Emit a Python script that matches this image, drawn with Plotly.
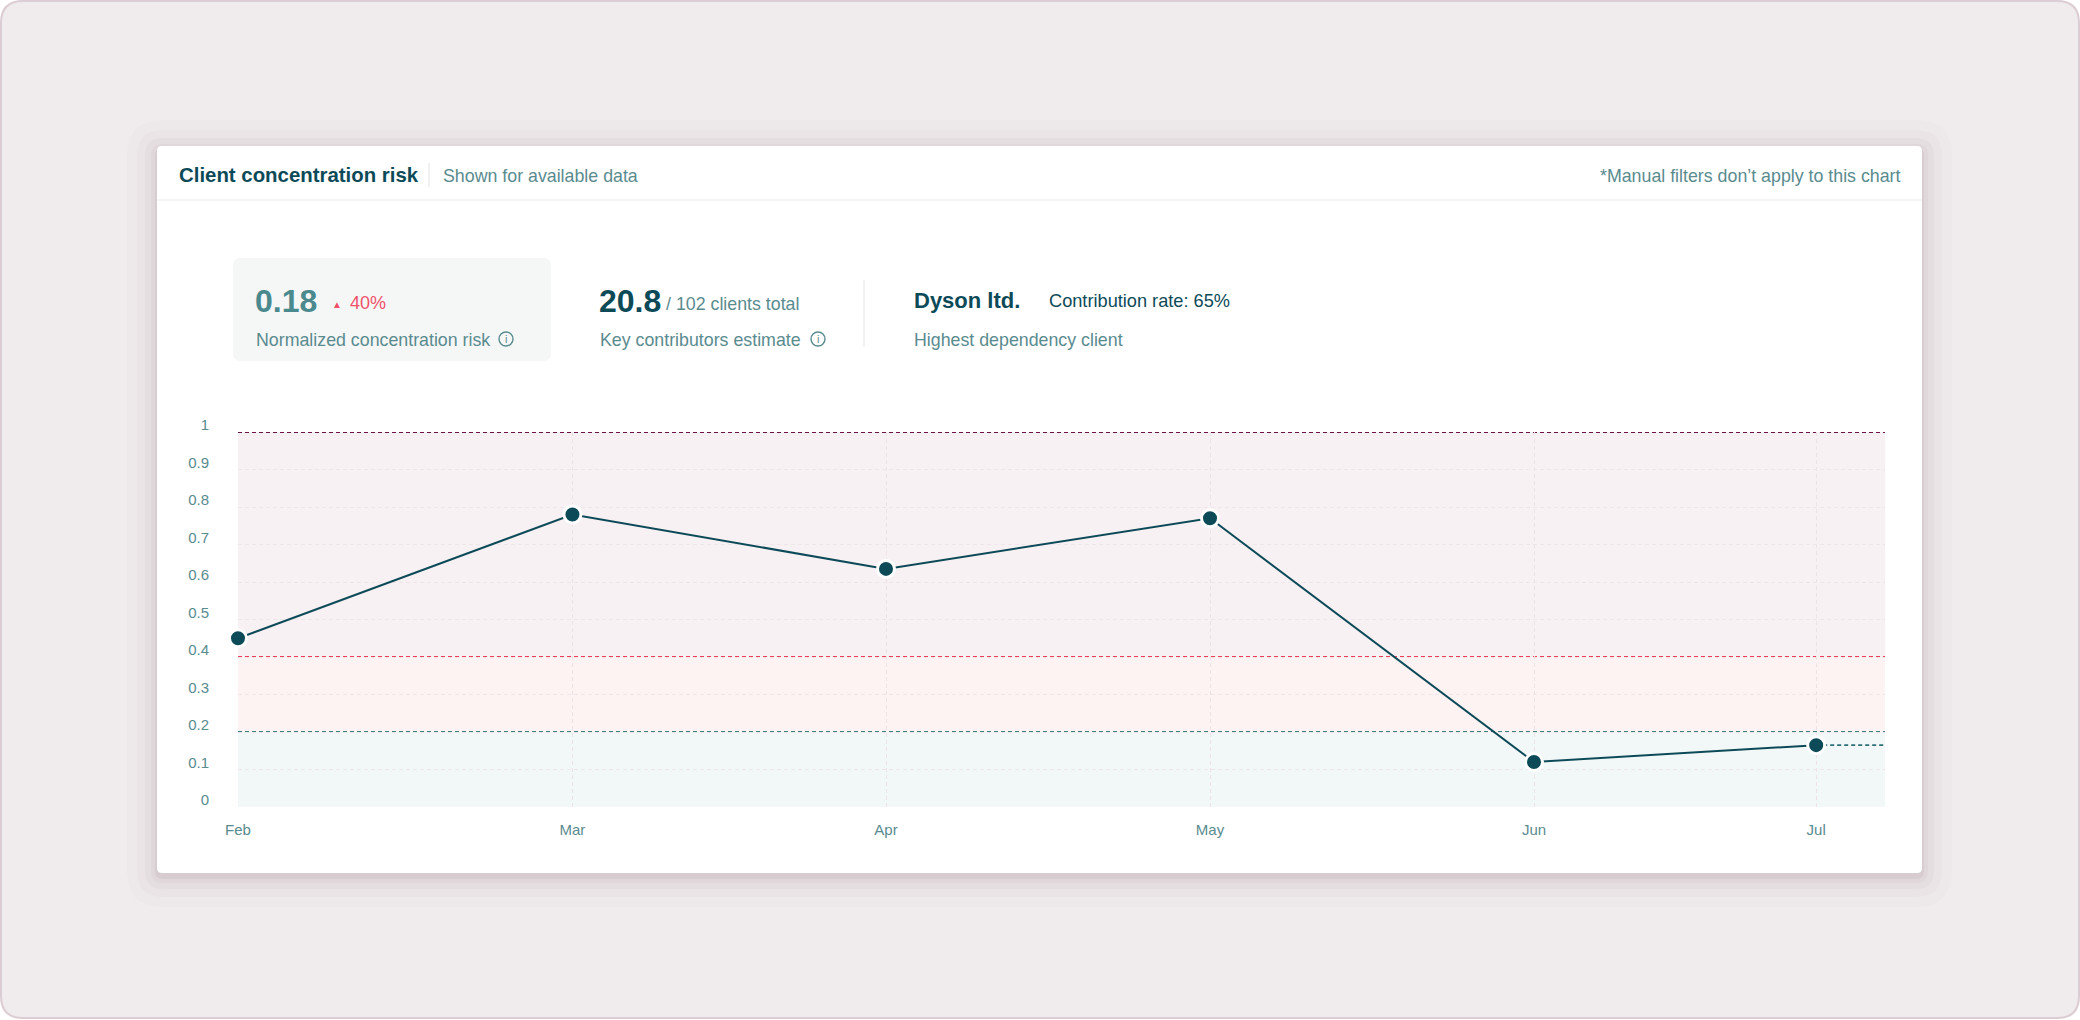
import plotly.graph_objects as go

# data
dates = ["2024-02-01", "2024-03-04", "2024-04-03", "2024-05-04", "2024-06-04", "2024-07-01"]
months = ["Feb", "Mar", "Apr", "May", "Jun", "Jul"]
risk = [0.45, 0.78, 0.635, 0.77, 0.12, 0.165]
x_end = "2024-07-07 14:00"

y_ticks = [0, 0.1, 0.2, 0.3, 0.4, 0.5, 0.6, 0.7, 0.8, 0.9, 1]
y_ticktext = ["0", "0.1", "0.2", "0.3", "0.4", "0.5", "0.6", "0.7", "0.8", "0.9", "1"]

# risk zones: (low, high, fill, threshold line colour)
zones = [
    (0.0, 0.2, "#f2f8f8", "#3f7f84"),
    (0.2, 0.4, "#fdf3f3", "#f03d58"),
    (0.4, 1.0, "#f7f1f4", "#6a1440"),
]

DARK = "#0d4a58"
MUTED = "#5a8b8f"
RED = "#f0506a"
FONT = "Liberation Sans, Arial, sans-serif"

W, H = 2080, 1020
PL, PR, PT, PB = 238, 1885, 432, 807


def px(x):
    return (x - PL) / (PR - PL)


def py(y):
    return (PB - y) / (PB - PT)


def rrect(x0, y0, x1, y1, r):
    pts = [
        ("M", x0 + r, y0), ("L", x1 - r, y0), ("Q", x1, y0, x1, y0 + r),
        ("L", x1, y1 - r), ("Q", x1, y1, x1 - r, y1),
        ("L", x0 + r, y1), ("Q", x0, y1, x0, y1 - r),
        ("L", x0, y0 + r), ("Q", x0, y0, x0 + r, y0),
    ]
    out = []
    for p in pts:
        if p[0] == "Q":
            out.append(f"Q {px(p[1]):.5f},{py(p[2]):.5f} {px(p[3]):.5f},{py(p[4]):.5f}")
        else:
            out.append(f"{p[0]} {px(p[1]):.5f},{py(p[2]):.5f}")
    return " ".join(out) + " Z"


def box(x0, y0, x1, y1, r, fill, line=None, lw=0):
    return dict(type="path", xref="paper", yref="paper", path=rrect(x0, y0, x1, y1, r),
                fillcolor=fill, line=dict(color=line or fill, width=lw), layer="below")


def seg(x0, y0, x1, y1, color, w=1):
    return dict(type="line", xref="paper", yref="paper", x0=px(x0), y0=py(y0), x1=px(x1), y1=py(y1),
                line=dict(color=color, width=w), layer="below")


shapes = [box(1, 1, W - 1, H - 2, 22, "#f0ebed", "#dccdd4", 2)]
# soft card shadow
for grow, alpha in [(30, 0.018), (20, 0.025), (12, 0.035), (6, 0.05), (2, 0.07)]:
    shapes.append(box(157 - grow, 146 - grow + 4, 1922 + grow, 873 + grow + 4, 6 + grow,
                      f"rgba(110,90,100,{alpha})"))
shapes += [
    box(157, 146, 1922, 873, 5, "#ffffff"),
    seg(157, 200, 1922, 200, "#ebebeb"),
    seg(429, 163, 429, 187, "#e3e3e3"),
    box(233, 258, 551, 361, 8, "#f5f7f7"),
    seg(864, 280, 864, 347, "#e6e6e6"),
]
for cx in (506, 818):
    shapes.append(dict(type="circle", xref="paper", yref="paper",
                       x0=px(cx - 7), x1=px(cx + 7), y0=py(339 - 7), y1=py(339 + 7),
                       line=dict(color=MUTED, width=1.4), fillcolor="rgba(0,0,0,0)", layer="below"))

for lo, hi, fill, lc in zones:
    shapes.append(dict(type="rect", xref="paper", yref="y", x0=0, x1=1, y0=lo, y1=hi,
                       fillcolor=fill, line=dict(width=0), layer="below"))
for lo, hi, fill, lc in zones:
    shapes.append(dict(type="line", xref="paper", yref="y", x0=0, x1=1, y0=hi, y1=hi,
                       line=dict(color=lc, width=1.8, dash="4px,3px"), layer="between"))


def note(x, y, text, size, color, anchor="left", bold=False):
    return dict(xref="paper", yref="paper", x=px(x), y=py(y), xanchor=anchor, yanchor="middle",
                text=f"<b>{text}</b>" if bold else text, showarrow=False,
                font=dict(family=FONT, size=size, color=color))


annotations = [
    note(177, 175, "Client concentration risk", 20.4, DARK, bold=True),
    note(441, 176, "Shown for available data", 17.8, MUTED),
    note(1903, 176, "*Manual filters don\u2019t apply to this chart", 17.8, MUTED, anchor="right"),
    note(253, 301, "0.18", 32, "#4a898d", bold=True),
    note(330, 304, "\u25b2", 10, RED),
    note(348, 303, "40%", 18, RED),
    note(254, 340, "Normalized concentration risk", 17.8, MUTED),
    note(506, 339, "i", 11, MUTED, anchor="center"),
    note(597, 301, "20.8", 32, DARK, bold=True),
    note(664, 304, "/ 102 clients total", 17.8, MUTED),
    note(598, 340, "Key contributors estimate", 17.8, MUTED),
    note(818, 339, "i", 11, MUTED, anchor="center"),
    note(912, 300, "Dyson ltd.", 22, DARK, bold=True),
    note(1047, 301, "Contribution rate: 65%", 18.2, DARK),
    note(912, 340, "Highest dependency client", 17.8, MUTED),
]

fig = go.Figure()
fig.add_trace(go.Scatter(
    x=[dates[-1], x_end], y=[risk[-1], risk[-1]], mode="lines",
    line=dict(color="#2f6f78", width=1.8, dash="4px,3px"), hoverinfo="skip", showlegend=False,
))
fig.add_trace(go.Scatter(
    x=dates, y=risk, mode="lines+markers", cliponaxis=False, showlegend=False,
    line=dict(color=DARK, width=2),
    marker=dict(size=17, color=DARK, line=dict(color="#ffffff", width=3)),
    name="Concentration risk",
))

fig.update_layout(
    width=W, height=H,
    margin=dict(l=PL, r=W - PR, t=PT, b=H - PB),
    paper_bgcolor="#ffffff", plot_bgcolor="rgba(0,0,0,0)",
    shapes=shapes, annotations=annotations,
    font=dict(family=FONT, color=MUTED),
)
fig.update_xaxes(
    type="date", range=[dates[0], x_end], tickvals=dates, ticktext=months,
    showgrid=True, gridcolor="#ede3e7", griddash="4px,3px", gridwidth=1,
    zeroline=False, showline=False, ticks="", tickfont=dict(size=15, color=MUTED),
    ticklabelstandoff=12,
)
fig.update_yaxes(
    range=[0, 1], tickvals=y_ticks, ticktext=y_ticktext,
    showgrid=True, gridcolor="#efe6ea", griddash="4px,3px", gridwidth=1,
    zeroline=False, showline=False, ticks="", tickfont=dict(size=15, color=MUTED),
    ticklabelstandoff=28, ticklabelshift=-7,
)

fig.write_html("out.html", config={"displayModeBar": False},
               post_script="document.body.style.margin='0';")
